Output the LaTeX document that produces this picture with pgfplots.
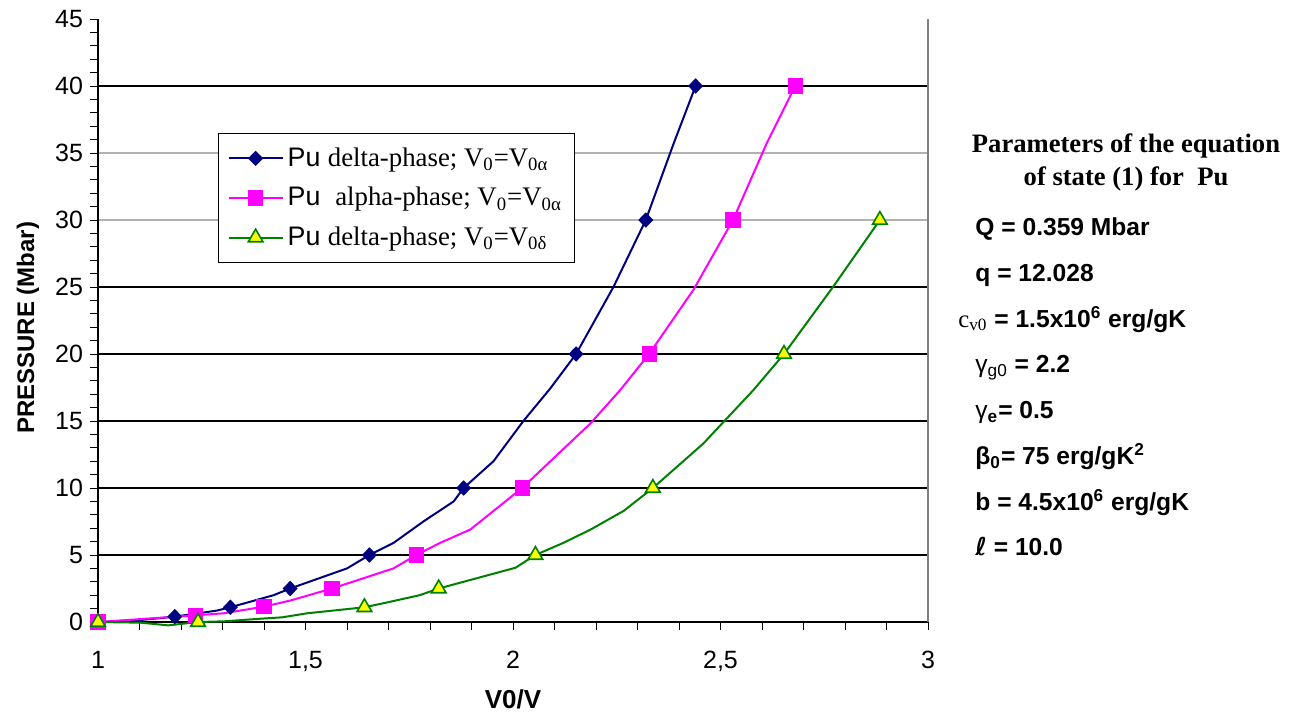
\documentclass[border=0pt]{standalone}
\usepackage{fontspec}
\setmainfont{Liberation Sans}
\newfontfamily\tnr{Liberation Serif}
\newfontfamily\dejavu{DejaVu Sans}
\usepackage{pgfplots}
\pgfplotsset{compat=1.18}
\definecolor{navyc}{RGB}{0,0,128}
\definecolor{magc}{RGB}{255,0,255}
\definecolor{greenc}{RGB}{0,128,0}
\definecolor{yellowc}{RGB}{255,255,0}
\begin{document}
\begin{tikzpicture}
\useasboundingbox (0,0) rectangle (650pt,360pt);
\begin{axis}[
  at={(49pt,49pt)}, anchor=south west,
  scale only axis, width=415pt, height=301.5pt,
  xmin=1, xmax=3, ymin=0, ymax=45,
  xtick={1,1.5,2,2.5,3}, ytick={0,5,...,45},
  minor x tick num=4, minor y tick num=4,
  xtick pos=lower, ytick pos=left,
  axis line style={draw=none},
  tick align=outside, major tick length=4pt, minor tick length=4pt,
  tick style={black, line width=0.5pt},
  clip=false,
  /pgf/number format/assume math mode=true,
  tick label style={font=\fontsize{12.5}{14}\selectfont},
  xticklabel style={/pgf/number format/use comma, yshift=-7pt},
  extra y ticks={5,10,15,20,25,40}, extra y tick labels={},
  extra y tick style={grid=major, major grid style={black, line width=0.6pt}},
  xlabel={V0/V},
  xlabel style={at={(axis description cs:0.5,-0.129)}, anchor=center, font=\bfseries\fontsize{13}{15}\selectfont},
  ylabel={PRESSURE (Mbar)},
  ylabel style={at={(axis description cs:-0.0843,0.488)}, anchor=center, font=\bfseries\fontsize{12}{14}\selectfont},
  legend cell align=left,
  legend image code/.code={\draw[#1, mark indices={2}] plot coordinates {(0pt,0pt) (13.5pt,0pt) (27pt,0pt)};},
  legend style={at={(rel axis cs:0.1446,0.811)}, anchor=north west, draw=black, fill=white, line width=0.6pt,
    font=\fontsize{13.4}{15}\selectfont, row sep=5pt, inner xsep=4.5pt, inner ysep=5pt},
]
\draw[gray!60, line width=0.6pt] (axis cs:1,30) -- (axis cs:3,30);
\draw[gray!60, line width=0.6pt] (axis cs:1,35) -- (axis cs:3,35);
\draw[black, line width=0.8pt] (rel axis cs:0,0) -- (rel axis cs:0,1);
\draw[black, line width=0.8pt] (rel axis cs:0,0) -- (rel axis cs:1,0);
\draw[gray, line width=1pt] (rel axis cs:1,0) -- (rel axis cs:1,1);

\addplot[navyc, line width=1pt, mark=diamond*, mark size=3.5pt,
  mark options={solid, fill=navyc, line width=0.5pt, xscale=1.3},
  mark indices={1,3,5,7,9,13,17,19,21}] coordinates {
(1.000,0) (1.103,0.15) (1.185,0.4) (1.286,0.85) (1.319,1.1) (1.423,2.0)
(1.463,2.5) (1.600,4.0) (1.654,5.0) (1.712,5.9) (1.784,7.5) (1.857,9.0)
(1.881,10) (1.953,12.0) (2.025,15.0) (2.089,17.4) (2.152,20) (2.242,25)
(2.320,30) (2.387,35.7) (2.440,40)
};
\addlegendentry{Pu {\tnr delta-phase; V\textsubscript{0}=V\textsubscript{0α}}}

\addplot[magc, line width=1pt, mark=square*, mark size=3.3pt,
  mark options={solid, fill=magc},
  mark indices={1,2,4,6,8,11,15,17,19}] coordinates {
(1.000,0) (1.235,0.5) (1.303,0.65) (1.400,1.15) (1.463,1.6) (1.564,2.5)
(1.712,4.0) (1.767,5.0) (1.824,5.9) (1.897,6.9) (2.022,10) (2.097,12.2)
(2.186,14.8) (2.258,17.3) (2.328,20) (2.435,24.8) (2.530,30) (2.611,35.7)
(2.680,40)
};
\addlegendentry{Pu\ \ {\tnr alpha-phase; V\textsubscript{0}=V\textsubscript{0α}}}

\addplot[greenc, line width=1pt, mark=triangle*, mark size=4.2pt,
  mark options={solid, fill=yellowc, draw=greenc, line width=0.8pt},
  mark indices={1,4,9,12,14,18,21,23}] coordinates {
(1.000,0) (1.103,-0.05) (1.169,-0.25) (1.241,0) (1.303,0.05) (1.394,0.25)
(1.444,0.35) (1.504,0.65) (1.642,1.1) (1.695,1.45) (1.775,2.0) (1.821,2.5)
(2.006,4.05) (2.054,5.0) (2.121,5.9) (2.187,6.9) (2.267,8.3) (2.337,10)
(2.458,13.3) (2.579,17.3) (2.653,20) (2.771,25) (2.884,30)
};
\addlegendentry{Pu {\tnr delta-phase; V\textsubscript{0}=V\textsubscript{0δ}}}
\end{axis}

\node[align=center, font=\tnr\bfseries\fontsize{13.3}{16.5}\selectfont] at (563pt,279pt)
  {Parameters of the equation\\of state (1) for\ \ Pu};
\begin{scope}[every node/.style={anchor=base west, inner sep=0pt, font=\bfseries\fontsize{12.3}{14}\selectfont}]
\node at (487.5pt,242.1pt) {Q = 0.359 Mbar};
\node at (487.5pt,219.25pt) {q = 12.028};
\node at (479pt,196.4pt) {{\tnr\mdseries c\textsubscript{v0}} = 1.5x10\textsuperscript{6} erg/gK};
\node at (487.5pt,173.55pt) {{\mdseries γ}\textsubscript{\mdseries g0} = 2.2};
\node at (487.5pt,150.7pt) {{\mdseries γ}\textsubscript{e}= 0.5};
\node at (487.5pt,127.85pt) {β\textsubscript{0}= 75 erg/gK\textsuperscript{2}};
\node at (487.5pt,105.0pt) {b = 4.5x10\textsuperscript{6} erg/gK};
\node at (487.5pt,82.15pt) {{\dejavu\bfseries ℓ} = 10.0};
\end{scope}
\end{tikzpicture}
\end{document}
